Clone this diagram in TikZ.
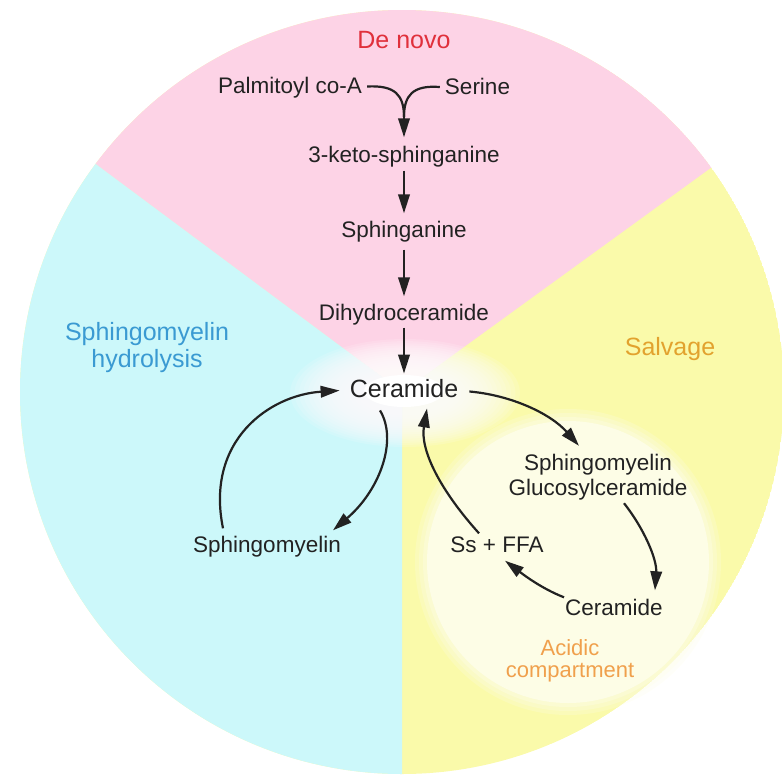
\documentclass[tikz,border=0pt]{standalone}
\usepackage{fontspec}
\setmainfont{Liberation Sans}
\usetikzlibrary{arrows.meta,calc}
\definecolor{pinkc}{HTML}{FDD3E6}
\definecolor{cyanc}{HTML}{CCF8FA}
\definecolor{yelc}{HTML}{FAFAAA}
\definecolor{lightc}{HTML}{FDFDE6}
\definecolor{ink}{HTML}{222222}
\definecolor{redc}{HTML}{E0303C}
\definecolor{bluec}{HTML}{3A9AD2}
\definecolor{goldc}{HTML}{E2A22E}
\definecolor{orangec}{HTML}{F0A04C}
\begin{document}
\begin{tikzpicture}[x=1pt,y=-1pt,
 txt/.style={font=\fontsize{22.5}{25}\selectfont, text=ink, inner sep=0pt, text height=16pt, text depth=5pt},
 mtxt/.style={font=\fontsize{22.5}{25}\selectfont, text=ink, inner sep=0pt, align=center},
 big/.style={font=\fontsize{25}{27}\selectfont, text=ink, inner sep=0pt, text height=18pt, text depth=5.5pt},
 ttl/.style={font=\fontsize{25}{27}\selectfont, inner sep=0pt, align=center},
 sttl/.style={font=\fontsize{22}{22}\selectfont, inner sep=0pt, align=center},
 link/.style={draw=ink, line width=2.2pt},
 flow/.style={link, -{Triangle[length=19pt,width=11.5pt]}},
 vflow/.style={flow, shorten <=3pt, shorten >=8pt}]
\useasboundingbox (0,0) rectangle (782,780);
% background sectors
\begin{scope}
\clip (402,392) circle (382pt);
\fill[yelc] (402,392) circle (382pt);
\fill[pinkc] (402,392) -- (-208,-62) -- (1022,-58) -- cycle;
\fill[cyanc] (402,392) -- (-208,-62) -- (-208,800) -- (402,800) -- cycle;
\end{scope}
% acidic compartment
\foreach \r/\o in {153/0.25,149/0.3,145/0.4}{
  \fill[lightc, opacity=\o] (568,562) circle (\r pt);
}
\fill[lightc] (568,562) circle (141pt);
% glow around ceramide
\foreach \k in {0,...,15}{
  \fill[white, opacity=0.14] (405,393) ellipse ({115-4.5*\k pt} and {54-2.1*\k pt});
}
\fill[white] (404,391) ellipse (40pt and 16pt);
% titles
\node[ttl, text=redc] (denovo) at (404,40) {De novo};
\node[ttl, text=bluec] (smh) at (147,348) {Sphingomyelin\\hydrolysis};
\node[ttl, text=goldc] (salv) at (670,349) {Salvage};
\node[sttl, text=orangec] (acid) at (570,661) {Acidic\\compartment};
% nodes
\node[txt] (palm) at (290,87.5) {Palmitoyl co-A};
\node[txt] (ser) at (477.5,89) {Serine};
\coordinate (merge) at (404,117);
\node[txt] (keto) at (404,157) {3-keto-sphinganine};
\node[txt] (sphn) at (404,232) {Sphinganine};
\node[txt] (dhc) at (404,315) {Dihydroceramide};
\node[big] (cer) at (404,391.5) {Ceramide};
\node[txt] (sm) at (267,547) {Sphingomyelin};
\node[mtxt] (smgc) at (598,477) {Sphingomyelin\\Glucosylceramide};
\node[txt] (cer2) at (614,610) {Ceramide};
\node[txt] (ss) at (497,547) {Ss + FFA};
% de novo chain
\draw[link] ($(palm.east)+(5,-1)$) .. controls (395,85) and (404,95) .. (merge);
\draw[link] ($(ser.west)+(-5,-2)$) .. controls (413,85) and (404,95) .. (merge);
\draw[flow, shorten >=9pt] (merge) -- (keto.north);
\draw[vflow] (keto) -- (sphn);
\draw[vflow, shorten <=7pt] (sphn) -- (dhc);
\draw[vflow, shorten <=2pt, shorten >=6pt] (dhc) -- (cer);
% sphingomyelin hydrolysis cycle
\draw[flow] ($(sm.north)+(-44,-8)$) .. controls (205,440) and (270,395) .. ($(cer.west)+(-10,-1)$);
\draw[flow] ($(cer.south)+(-24,7)$) .. controls (398,440) and (380,490) .. ($(sm.north east)+(-8,-6)$);
% salvage cycle
\draw[flow] ($(cer.east)+(11,0)$) .. controls (510,395) and (550,413) .. ($(smgc.north)+(-19,-8)$);
\draw[flow] ($(smgc.south)+(26,3)$) .. controls (645,530) and (657,560) .. ($(cer2.north east)+(-8,-9)$);
\draw[flow] ($(cer2.north west)+(-1,-2)$) .. controls (540,588) and (520,572) .. ($(ss.south)+(8,3)$);
\draw[flow] ($(ss.north)+(-18,-3)$) .. controls (440,490) and (420,450) .. ($(cer.south)+(23,5)$);
\end{tikzpicture}
\end{document}
